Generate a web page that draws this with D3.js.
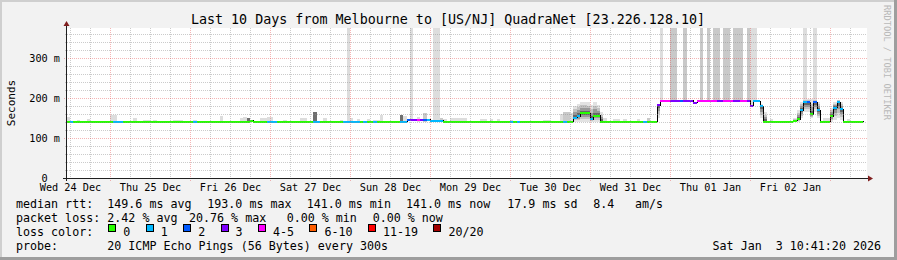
<!DOCTYPE html>
<html>
<head>
<meta charset="utf-8">
<script src="https://cdn.jsdelivr.net/npm/d3@7"></script>
<style>
  body { margin: 0; background: #f2f2f2; }
  svg { display: block; font-family: "DejaVu Sans Mono", monospace; }
  text { white-space: pre; }
</style>
</head>
<body>
<svg id="chart"></svg>
<script>
// ---- data (hours are counted from Wed 24 Dec 00:00) ----
const startTime = Date.UTC(2025, 11, 24, 11, 6);
const endTime = Date.UTC(2026, 0, 3, 11, 6);
const dataEndHour = 250;

// median rtt in ms, [hour, value] held until the next entry
const medianSteps = [
    [11, 141], [66, 143], [67, 141], [113, 146], [120, 143], [124, 141],
    [163, 151], [164, 155], [165, 162], [168, 147], [169, 156], [171, 141],
    [188, 182], [189, 193], [199, 188], [200, 193], [216, 181], [217, 192], [219, 179], [220, 141],
    [229, 143], [230, 147], [231, 170], [232, 189], [234, 160], [235, 189], [236, 170], [237, 141],
    [240, 155], [241, 176], [242, 189], [243, 172], [244, 141]
];

// lost pings out of 20, [hour, count] held until the next entry
const lossSteps = [
    [11, 0], [12, 1], [13, 0], [25, 1], [28, 0], [49, 1], [50, 0], [71, 1], [74, 0],
    [85, 1], [87, 0], [94, 1], [99, 0], [100, 1], [101, 0], [103, 1], [104, 0],
    [111, 1], [113, 2], [114, 3], [116, 5], [117, 3], [118, 2], [119, 1], [124, 0],
    [144, 1], [145, 0], [146, 1], [147, 0], [160, 1], [161, 0], [163, 1], [165, 0],
    [168, 1], [169, 0], [184, 1], [185, 0],
    [188, 3], [189, 5], [192, 3], [195, 2], [196, 3], [200, 5], [206, 3], [208, 5],
    [211, 3], [213, 5], [215, 3], [217, 1], [220, 0],
    [231, 1], [233, 2], [234, 0], [235, 2], [236, 1], [237, 0], [241, 1], [244, 0]
];

// smoke: [hour, lowest ping ms, highest ping ms, density 1..3 or 0 = spread]
const smokeBars = [
    [11, 141, 152, 1], [14, 141, 145, 1], [17, 141, 148, 1], [24, 141, 157, 1], [25, 141, 157, 1],
    [31, 141, 151, 1], [34, 141, 145, 1], [35, 141, 145, 1], [37, 141, 145, 1], [43, 141, 146, 1],
    [44, 141, 146, 1], [45, 141, 146, 1], [49, 141, 145, 1], [57, 141, 156, 1], [63, 141, 151, 1],
    [64, 141, 152, 1], [65, 141, 151, 3], [69, 141, 151, 1], [70, 141, 151, 1], [71, 141, 152, 1],
    [72, 141, 152, 1], [76, 141, 145, 1], [81, 141, 151, 1], [82, 141, 151, 1], [85, 141, 166, 3],
    [88, 141, 151, 1], [93, 141, 145, 1], [95, 141, 400, 1], [96, 141, 151, 1], [98, 141, 148, 1],
    [101, 141, 148, 1], [103, 141, 145, 1], [104, 141, 145, 1], [105, 141, 157, 1], [111, 141, 157, 3],
    [112, 141, 154, 1], [114, 145, 400, 1], [116, 141, 153, 1], [118, 141, 163, 2], [121, 141, 400, 1],
    [122, 141, 400, 1], [123, 141, 151, 2], [124, 141, 148, 1], [126, 141, 151, 1], [127, 141, 151, 1],
    [128, 141, 151, 1], [129, 141, 151, 1], [130, 141, 151, 1], [135, 141, 148, 1], [136, 141, 148, 1],
    [138, 141, 148, 1], [140, 141, 148, 1], [144, 141, 145, 1], [154, 141, 145, 1], [155, 141, 145, 1],
    [159, 141, 160, 1], [160, 141, 165, 2], [161, 141, 166, 2], [162, 141, 162, 1],
    [163, 141, 180, 0], [164, 141, 186, 0], [165, 141, 191, 0], [166, 141, 191, 0], [167, 141, 189, 0],
    [168, 141, 182, 0], [169, 141, 190, 0], [170, 141, 183, 0], [171, 141, 166, 0], [172, 141, 150, 1],
    [175, 141, 148, 1], [176, 141, 148, 1], [178, 141, 148, 1], [182, 141, 147, 1], [185, 141, 150, 2],
    [188, 150, 185, 0], [189, 190, 400, 1], [192, 190, 400, 2], [193, 190, 400, 2], [196, 190, 400, 2],
    [201, 190, 400, 2], [203, 190, 400, 2], [205, 190, 400, 2], [206, 190, 400, 2], [208, 190, 400, 2],
    [209, 190, 400, 2], [211, 190, 400, 2], [212, 190, 400, 2], [213, 190, 400, 2], [215, 190, 400, 2],
    [216, 178, 400, 1], [217, 190, 400, 1], [219, 150, 185, 0], [220, 141, 165, 0], [222, 141, 147, 1],
    [229, 141, 150, 0], [230, 141, 170, 0], [231, 150, 190, 0], [232, 175, 400, 1], [232, 165, 197, 0],
    [233, 165, 197, 0], [234, 150, 197, 0], [235, 175, 400, 1], [235, 165, 197, 0], [236, 150, 190, 0],
    [238, 141, 150, 1], [239, 141, 150, 1], [240, 141, 175, 0], [241, 145, 190, 0], [242, 150, 196, 0],
    [243, 145, 190, 0], [245, 141, 147, 1]
];

const lossClassMax = [0, 1, 2, 3, 5, 10, 19, 20];
const lossClassLabels = ['0', '1', '2', '3', '4-5', '6-10', '11-19', '20/20'];
const yTicks = [0, 100, 200, 300];
const yTickLabels = ['0  ', '100 m', '200 m', '300 m'];

const titleText = 'Last 10 Days from Melbourne to [US/NJ] QuadraNet [23.226.128.10]';
const medianStats = ['median rtt:', '149.6 ms avg', '193.0 ms max', '141.0 ms min', '141.0 ms now', '17.9 ms sd', '8.4', 'am/s'];
const lossStats = ['packet loss:', '2.42 % avg', '20.76 % max', '0.00 % min', '0.00 % now'];
const probeText = ['probe:', '20 ICMP Echo Pings (56 Bytes) every 300s'];
const stampText = 'Sat Jan  3 10:41:20 2026';

// ---- styles ----
const lossColors = ['#26ff00', '#00b8ff', '#0059ff', '#7e00ff', '#ff00ff', '#ff5e00', '#ff0000', '#a10000'];
const densityColors = [null, '#dddddd', '#c9c9c9', '#6f6f6f'];
const spreadLayers = [[1, '#e2e2e2'], [0.7, '#c2c2c2'], [0.45, '#989898'], [0.22, '#666666']];

const W = 897, H = 260;
const plot = { left: 67, right: 867, top: 28, bottom: 178 };

const svg = d3.select('#chart').attr('width', W).attr('height', H);

// background and 3d frame
svg.append('rect').attr('width', W).attr('height', H).attr('fill', '#f2f2f2');
svg.append('rect').attr('x', 0).attr('y', 0).attr('width', W).attr('height', 2).attr('fill', '#cfcfcf');
svg.append('rect').attr('x', 0).attr('y', 0).attr('width', 2).attr('height', H).attr('fill', '#cfcfcf');
svg.append('rect').attr('x', 0).attr('y', H - 3).attr('width', W).attr('height', 3).attr('fill', '#9e9e9e');
svg.append('rect').attr('x', W - 3).attr('y', 0).attr('width', 3).attr('height', H).attr('fill', '#9e9e9e');

const x = d3.scaleUtc().domain([startTime, endTime]).range([plot.left, plot.right]);
const y = d3.scaleLinear().domain([0, 375]).range([plot.bottom, plot.top]);
const hourDate = h => new Date(Date.UTC(2025, 11, 24) + h * 3600e3);
const xh = h => x(hourDate(h));

function stepAt(steps, h) {
    let v = steps[0][1];
    for (const s of steps) {
        if (s[0] <= h) v = s[1];
        else break;
    }
    return v;
}
const classOf = n => lossClassMax.findIndex(m => n <= m);

// canvas
svg.append('rect')
    .attr('x', plot.left).attr('y', plot.top)
    .attr('width', plot.right - plot.left).attr('height', plot.bottom - plot.top)
    .attr('fill', '#ffffff');

svg.append('clipPath').attr('id', 'clip')
    .append('rect')
    .attr('x', plot.left).attr('y', plot.top)
    .attr('width', plot.right - plot.left).attr('height', plot.bottom - plot.top);

const chart = svg.append('g').attr('clip-path', 'url(#clip)');

// smoke
const smokeG = chart.append('g').attr('shape-rendering', 'crispEdges');
smokeBars.forEach(([h, lo, hi, dens]) => {
    const x0 = xh(h), x1 = xh(h + 1);
    if (dens > 0) {
        smokeG.append('rect')
            .attr('x', x0).attr('width', x1 - x0)
            .attr('y', y(hi)).attr('height', y(lo) - y(hi))
            .attr('fill', densityColors[dens]);
    } else {
        const med = stepAt(medianSteps, h);
        spreadLayers.forEach(([f, c]) => {
            const top = med + (hi - med) * f;
            const bot = med - (med - lo) * f;
            smokeG.append('rect')
                .attr('x', x0).attr('width', x1 - x0)
                .attr('y', y(top)).attr('height', Math.max(1, y(bot) - y(top)))
                .attr('fill', c);
        });
    }
});

// grid
const gridG = svg.append('g').attr('shape-rendering', 'crispEdges');
const crisp = v => Math.round(v) + 0.5;

const minorY = d3.range(20, 375, 20).filter(v => v % 100 !== 0);
const majorY = yTicks.filter(v => v > 0);
const midnights = d3.utcDay.range(startTime, endTime);
const sixHours = d3.utcHour.every(6).range(startTime, endTime).filter(d => d.getUTCHours() !== 0);

gridG.selectAll('.gy').data(minorY).join('line')
    .attr('x1', plot.left - 2).attr('x2', plot.right)
    .attr('y1', d => crisp(y(d))).attr('y2', d => crisp(y(d)))
    .attr('stroke', 'rgba(140,140,140,0.45)').attr('stroke-dasharray', '1,1');
gridG.selectAll('.gx').data(sixHours).join('line')
    .attr('y1', plot.top).attr('y2', plot.bottom + 2)
    .attr('x1', d => crisp(x(d))).attr('x2', d => crisp(x(d)))
    .attr('stroke', 'rgba(140,140,140,0.45)').attr('stroke-dasharray', '1,1');
gridG.selectAll('.my').data(majorY).join('line')
    .attr('x1', plot.left - 3).attr('x2', plot.right)
    .attr('y1', d => crisp(y(d))).attr('y2', d => crisp(y(d)))
    .attr('stroke', 'rgba(230,70,70,0.4)').attr('stroke-dasharray', '1,1');
gridG.selectAll('.mx').data(midnights).join('line')
    .attr('y1', plot.top).attr('y2', plot.bottom + 3)
    .attr('x1', d => crisp(x(d))).attr('x2', d => crisp(x(d)))
    .attr('stroke', 'rgba(230,70,70,0.4)').attr('stroke-dasharray', '1,1');

// median line: black steps then loss coloured segments
const stepPts = medianSteps.map(s => [s[0], s[1]]);
stepPts.push([dataEndHour, medianSteps[medianSteps.length - 1][1]]);
chart.append('path')
    .datum(stepPts)
    .attr('fill', 'none')
    .attr('stroke', '#000')
    .attr('stroke-width', 1)
    .attr('shape-rendering', 'crispEdges')
    .attr('d', d3.line().x(d => crisp(xh(d[0]))).y(d => y(d[1])).curve(d3.curveStepAfter));

const runs = [];
for (let h = 11; h < dataEndHour; h++) {
    const med = stepAt(medianSteps, h);
    const cls = classOf(stepAt(lossSteps, h));
    const last = runs[runs.length - 1];
    if (last && last.med === med && last.cls === cls) last.h1 = h + 1;
    else runs.push({ h0: h, h1: h + 1, med, cls });
}
chart.append('g').attr('shape-rendering', 'crispEdges')
    .selectAll('rect').data(runs).join('rect')
    .attr('x', d => xh(d.h0))
    .attr('width', d => xh(d.h1) - xh(d.h0))
    .attr('y', d => y(d.med) - 1)
    .attr('height', 2)
    .attr('fill', d => lossColors[d.cls]);

// axes lines and arrows
svg.append('line').attr('x1', plot.left - 4).attr('x2', plot.right + 2)
    .attr('y1', plot.bottom + 0.5).attr('y2', plot.bottom + 0.5)
    .attr('stroke', '#1f1f1f').attr('shape-rendering', 'crispEdges');
svg.append('line').attr('x1', plot.left - 0.5).attr('x2', plot.left - 0.5)
    .attr('y1', plot.bottom + 3).attr('y2', plot.top - 2)
    .attr('stroke', '#1f1f1f').attr('shape-rendering', 'crispEdges');
svg.append('path')
    .attr('d', `M${plot.left - 3.5},${plot.top - 2} L${plot.left + 2.5},${plot.top - 2} L${plot.left - 0.5},${plot.top - 7} Z`)
    .attr('fill', '#801f1f');
svg.append('path')
    .attr('d', `M${plot.right + 1},${plot.bottom - 2.5} L${plot.right + 1},${plot.bottom + 3.5} L${plot.right + 6},${plot.bottom + 0.5} Z`)
    .attr('fill', '#801f1f');

// axis labels
const noons = d3.utcDay.range(d3.utcDay.floor(new Date(startTime)), endTime)
    .map(d => d3.utcHour.offset(d, 12))
    .filter(d => d >= startTime && d <= endTime);

const xAxisG = svg.append('g')
    .attr('transform', `translate(0,${plot.bottom})`)
    .call(d3.axisBottom(x).tickValues(noons).tickSize(0).tickFormat(d3.utcFormat('%a %d %b')));
xAxisG.select('.domain').remove();
xAxisG.selectAll('text')
    .attr('y', 12.5).attr('dy', null)
    .attr('font-family', '"DejaVu Sans Mono", monospace')
    .attr('font-size', 10.2).attr('fill', '#000');

const yAxisG = svg.append('g')
    .attr('transform', `translate(${plot.left},0)`)
    .call(d3.axisLeft(y).tickValues(yTicks).tickSize(0).tickPadding(7)
        .tickFormat((d, i) => yTickLabels[i]));
yAxisG.select('.domain').remove();
yAxisG.selectAll('text')
    .attr('dy', d => d === 0 ? '0.3em' : '0.36em')
    .attr('font-family', '"DejaVu Sans Mono", monospace')
    .attr('font-size', 10.2).attr('fill', '#000');

svg.append('text')
    .attr('transform', `translate(15,${(plot.top + plot.bottom) / 2}) rotate(-90)`)
    .attr('text-anchor', 'middle')
    .attr('font-size', 11)
    .text('Seconds');

// title and watermark
svg.append('text')
    .attr('x', 448).attr('y', 24)
    .attr('text-anchor', 'middle')
    .attr('font-size', 13.35)
    .text(titleText);

svg.append('text')
    .attr('transform', 'translate(883.5,5) rotate(90)')
    .attr('font-size', 8.7)
    .attr('fill', '#b8b8b8')
    .text('RRDTOOL / TOBI OETIKER');

// legend
const legendFont = 11.66;
const rowY = [207.5, 221.5, 235.5, 249.5];
const medianX = [16, 107.3, 207.3, 306.7, 406, 507.3, 593.3, 635];
const lossX = [16, 107.3, 189, 286.7, 372.7];

const legend = svg.append('g').attr('font-size', legendFont);
medianStats.forEach((t, i) => legend.append('text').attr('x', medianX[i]).attr('y', rowY[0]).text(t));
lossStats.forEach((t, i) => legend.append('text').attr('x', lossX[i]).attr('y', rowY[1]).text(t));
legend.append('text').attr('x', 16).attr('y', rowY[2]).text('loss color:');
legend.append('text').attr('x', 16).attr('y', rowY[3]).text(probeText[0]);
legend.append('text').attr('x', 107.3).attr('y', rowY[3]).text(probeText[1]);
legend.append('text').attr('x', 881).attr('y', rowY[3]).attr('text-anchor', 'end').text(stampText);

let bx = 108.3;
lossClassLabels.forEach((lab, i) => {
    legend.append('rect')
        .attr('x', Math.round(bx) + 0.5).attr('y', 224.5)
        .attr('width', 7).attr('height', 7)
        .attr('fill', lossColors[i]).attr('stroke', '#000')
        .attr('shape-rendering', 'crispEdges');
    const t = legend.append('text').attr('x', bx + 15).attr('y', rowY[2]).text(lab);
    bx = bx + 15 + t.node().getComputedTextLength() + 15.4;
});
</script>
</body>
</html>
